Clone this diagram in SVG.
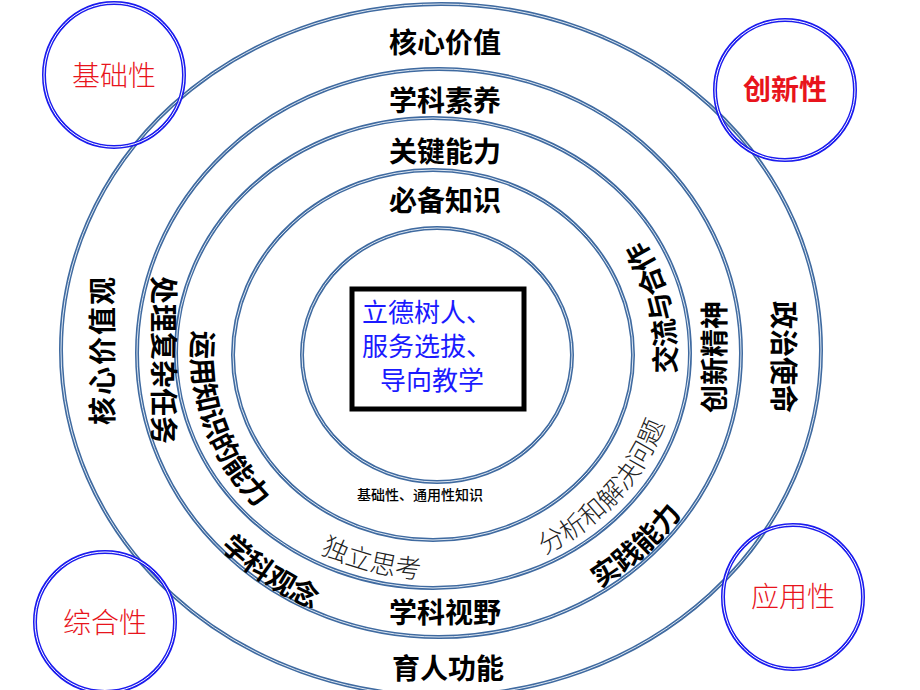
<svg xmlns="http://www.w3.org/2000/svg" xmlns:xlink="http://www.w3.org/1999/xlink" width="920" height="690" viewBox="0 0 920 690">
<style>
.ring{fill:none;stroke:#3f6aa0;stroke-width:4}
.ringin{fill:none;stroke:#dfe8f2;stroke-width:1}
.bc{fill:none;stroke:#1a1aee;stroke-width:4}
.bci{fill:none;stroke:#ffffff;stroke-width:1}
.t{font-family:"Noto Sans CJK SC","Noto Sans",sans-serif;fill:#000}
.b{font-size:28px;font-weight:700}
.l{font-size:26px;font-weight:300;fill:#222}
.red{font-family:"Noto Sans CJK SC",sans-serif;fill:#e8141c;font-size:28px}
.blue{font-family:"Noto Sans CJK SC",sans-serif;fill:#1a1aff;font-size:26px}
</style>
<defs>
<path id="r34" d="M434,131 A242,224 0 0 0 434,579 A242,224 0 0 0 434,131"/>
<path id="r23" d="M436,75 A300,279 0 0 0 436,633 A300,279 0 0 0 436,75"/>
</defs>
<rect width="920" height="690" fill="#fff"/>
<g id="rings">
<ellipse class="ring" cx="441" cy="350" rx="380" ry="346"/>
<ellipse class="ringin" cx="441" cy="350" rx="380" ry="346"/>
<ellipse class="ring" cx="439" cy="353" rx="302" ry="284"/>
<ellipse class="ringin" cx="439" cy="353" rx="302" ry="284"/>
<ellipse class="ring" cx="433" cy="353" rx="257" ry="235"/>
<ellipse class="ringin" cx="433" cy="353" rx="257" ry="235"/>
<ellipse class="ring" cx="433" cy="355" rx="200" ry="185"/>
<ellipse class="ringin" cx="433" cy="355" rx="200" ry="185"/>
<ellipse class="ring" cx="437" cy="355" rx="135" ry="127"/>
<ellipse class="ringin" cx="437" cy="355" rx="135" ry="127"/>
</g>
<g id="center">
<rect x="352" y="289" width="172" height="120" fill="#fff" stroke="#000" stroke-width="5"/>
<text class="blue" x="362" y="322">立德树人、</text>
<text class="blue" x="362" y="356">服务选拔、</text>
<text class="blue" x="380" y="390">导向教学</text>
</g>
<g id="n-jichu"><ellipse class="bc" cx="114" cy="75" rx="70" ry="72"/><ellipse class="bci" cx="114" cy="75" rx="70" ry="72"/><text class="red" x="114" y="86" text-anchor="middle" font-weight="300">基础性</text></g>
<g id="n-chuangxin"><ellipse class="bc" cx="785" cy="90" rx="70" ry="70"/><ellipse class="bci" cx="785" cy="90" rx="70" ry="70"/><text class="red" x="785" y="100" text-anchor="middle" font-weight="700">创新性</text></g>
<g id="n-zonghe"><ellipse class="bc" cx="105" cy="622" rx="70" ry="70"/><ellipse class="bci" cx="105" cy="622" rx="70" ry="70"/><text class="red" x="105" y="633" text-anchor="middle" font-weight="300">综合性</text></g>
<g id="n-yingyong"><ellipse class="bc" cx="793" cy="597" rx="70" ry="72"/><ellipse class="bci" cx="793" cy="597" rx="70" ry="72"/><text class="red" x="793" y="607" text-anchor="middle" font-weight="300">应用性</text></g>
<g id="labels">
<text class="t b" x="445" y="53" text-anchor="middle">核心价值</text>
<text class="t b" x="445" y="111" text-anchor="middle">学科素养</text>
<text class="t b" x="445" y="162" text-anchor="middle">关键能力</text>
<text class="t b" x="445" y="211" text-anchor="middle">必备知识</text>
<text class="t b" x="445" y="623" text-anchor="middle">学科视野</text>
<text class="t b" x="448" y="679" text-anchor="middle">育人功能</text>
<text class="t" x="420" y="500" text-anchor="middle" font-size="14" font-weight="500">基础性、通用性知识</text>
<text class="t b" transform="translate(113,350) rotate(-90)" text-anchor="middle" letter-spacing="2">核心价值观</text>
<text class="t b" transform="translate(153,360) rotate(90)" text-anchor="middle" font-size="30">处理复杂任务</text>
<text class="t b" transform="translate(725,357) rotate(-90)" text-anchor="middle" font-size="29">创新精神</text>
<text class="t b" transform="translate(773,357) rotate(90)" text-anchor="middle" font-size="30">政治使命</text>
<text class="t b" font-size="30"><textPath href="#r34" xlink:href="#r34" startOffset="30%" text-anchor="middle">运用知识的能力</textPath></text>
<text class="t l"><textPath href="#r34" xlink:href="#r34" startOffset="45.5%" text-anchor="middle">独立思考</textPath></text>
<text class="t l"><textPath href="#r34" xlink:href="#r34" startOffset="64%" text-anchor="middle">分析和解决问题</textPath></text>
<text class="t b" font-size="30"><textPath href="#r34" xlink:href="#r34" startOffset="78.5%" text-anchor="middle">交流与合作</textPath></text>
<text class="t b" font-size="30"><textPath href="#r23" xlink:href="#r23" startOffset="40%" text-anchor="middle">学科观念</textPath></text>
<text class="t b" font-size="30"><textPath href="#r23" xlink:href="#r23" startOffset="62.5%" text-anchor="middle">实践能力</textPath></text>
</g>
</svg>
